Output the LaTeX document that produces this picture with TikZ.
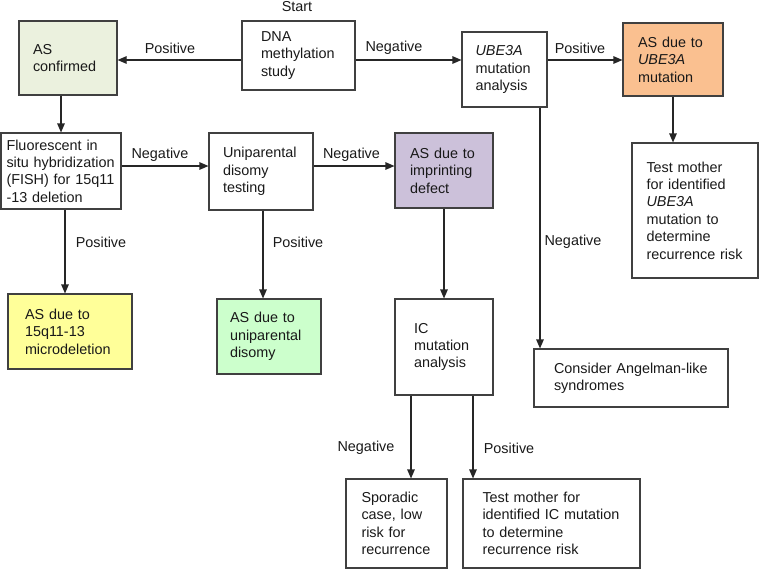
\documentclass[tikz,border=0pt]{standalone}
\usepackage{fontspec}
\setmainfont{Liberation Sans}
\usetikzlibrary{arrows.meta}
\definecolor{cConf}{HTML}{EBF1DE}
\definecolor{cOrange}{HTML}{FAC090}
\definecolor{cPurple}{HTML}{CCC1DA}
\definecolor{cYellow}{HTML}{FFFF99}
\definecolor{cGreen}{HTML}{CCFFCC}
\begin{document}
\begin{tikzpicture}[x=1pt,y=-1pt,
  box/.style={draw=black!75, line width=1.1pt, inner xsep=0pt, inner ysep=2pt, align=left,
    font=\fontsize{14.4}{17.4}\selectfont, text=black!90},
  lbl/.style={inner sep=0pt, font=\fontsize{14.4}{17.4}\selectfont, text=black!90},
  arr/.style={draw=black!85, line width=1.1pt, -{Triangle[length=9pt,width=7.5pt]}}
]
\useasboundingbox (0,0) rectangle (759,570);

% boxes
\node[box, minimum width=113pt, minimum height=69pt, text width=75pt] (dna) at (298.5,55.5) {DNA\\methylation\\study};
\node[box, fill=cConf, minimum width=98pt, minimum height=74pt, text width=70pt] (asconf) at (68,58) {AS\\confirmed};
\node[box, minimum width=85pt, minimum height=75pt, text width=58pt] (ube) at (504.5,69.5) {\textit{UBE3A}\\mutation\\analysis};
\node[box, fill=cOrange, minimum width=100pt, minimum height=73pt, text width=70pt] (orange) at (673,59.5) {AS due to\\\textit{UBE3A}\\mutation};
\node[box, minimum width=126pt, minimum height=135pt, text width=97pt] (tmu) at (695,210.5) {Test mother\\for identified\\\textit{UBE3A}\\mutation to\\determine\\recurrence risk};
\node[box, minimum width=194pt, minimum height=58pt, text width=154pt] (consider) at (631,378) {Consider Angelman-like\\syndromes};
\node[box, minimum width=120pt, minimum height=76pt, text width=109pt] (fish) at (61,171) {Fluorescent in\\situ hybridization\\(FISH) for 15q11\\-13 deletion};
\node[box, minimum width=104pt, minimum height=77pt, text width=76pt] (uni) at (261,171.5) {Uniparental\\disomy\\testing};
\node[box, fill=cPurple, minimum width=98pt, minimum height=75pt, text width=68pt] (imp) at (444,170.5) {AS due to\\imprinting\\defect};
\node[box, fill=cYellow, minimum width=124pt, minimum height=75pt, text width=90pt] (yellow) at (70,331.5) {AS due to\\15q11-13\\microdeletion};
\node[box, fill=cGreen, minimum width=104pt, minimum height=75pt, text width=78pt] (green) at (269,336.5) {AS due to\\uniparental\\disomy};
\node[box, minimum width=98pt, minimum height=96pt, text width=60pt] (ic) at (444,347) {IC\\mutation\\analysis};
\node[box, minimum width=101pt, minimum height=89pt, text width=70pt] (spor) at (396.5,523.5) {Sporadic\\case, low\\risk for\\recurrence};
\node[box, minimum width=177pt, minimum height=89pt, text width=138pt] (tmic) at (551.5,523.5) {Test mother for\\identified IC mutation\\to determine\\recurrence risk};

% labels
\node[lbl] (lstart) at (297,7) {Start};
\node[lbl] (l1) at (170,48) {Positive};
\node[lbl] (l2) at (394,48) {Negative};
\node[lbl] (l3) at (580,48) {Positive};
\node[lbl] (l4) at (160,155) {Negative};
\node[lbl] (l5) at (351.5,155) {Negative};
\node[lbl] (l6) at (101,242) {Positive};
\node[lbl] (l7) at (298,242) {Positive};
\node[lbl] (l8) at (573,242) {Negative};
\node[lbl] (l9) at (366,448) {Negative};
\node[lbl] (l10) at (509,448) {Positive};

% helper coordinates
\coordinate (r1) at (0,60);
\coordinate (r2) at (0,166);
\coordinate (cf) at (65,0);
\coordinate (cu) at (263,0);
\coordinate (cb) at (540,0);
\coordinate (co) at (673,0);
\coordinate (cs) at (411,0);
\coordinate (ct) at (473,0);

% connectors
\draw[arr] (dna.west |- r1) -- (asconf.east |- r1);
\draw[arr] (dna.east |- r1) -- (ube.west |- r1);
\draw[arr] (ube.east |- r1) -- (orange.west |- r1);
\draw[arr] (asconf.south -| fish.north) -- (fish.north);
\draw[arr] (fish.east |- r2) -- (uni.west |- r2);
\draw[arr] (uni.east |- r2) -- (imp.west |- r2);
\draw[arr] (fish.south -| cf) -- (yellow.north -| cf);
\draw[arr] (uni.south -| cu) -- (green.north -| cu);
\draw[arr] (imp.south) -- (ic.north);
\draw[arr] (ube.south -| cb) -- (consider.north -| cb);
\draw[arr] (orange.south -| co) -- (tmu.north -| co);
\draw[arr] (ic.south -| cs) -- (spor.north -| cs);
\draw[arr] (ic.south -| ct) -- (tmic.north -| ct);
\end{tikzpicture}
\end{document}
